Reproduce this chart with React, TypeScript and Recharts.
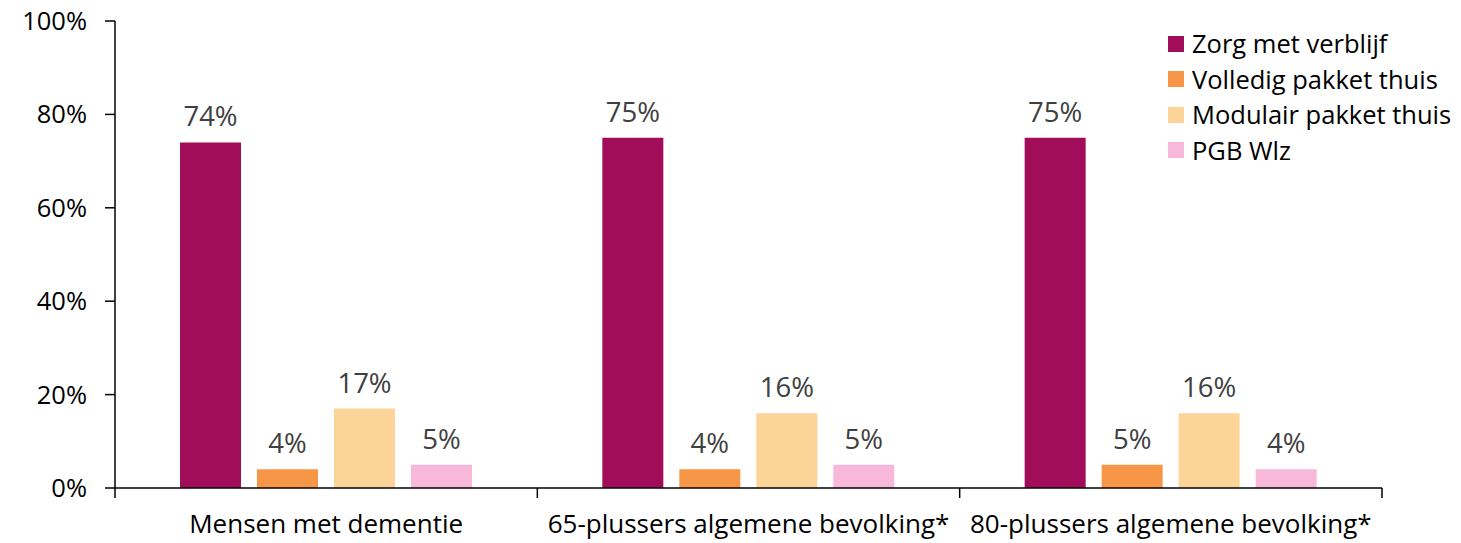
import { BarChart, Bar, XAxis, YAxis, LabelList } from "recharts";

const CATEGORIES = ["Mensen met dementie", "65-plussers algemene bevolking*", "80-plussers algemene bevolking*"];
const ZORG_MET_VERBLIJF = [74, 75, 75];
const VOLLEDIG_PAKKET = [4, 4, 5];
const MODULAIR_PAKKET = [17, 16, 16];
const PGB_WLZ = [5, 5, 4];
const Y_TICKS = [0, 20, 40, 60, 80, 100];

const SERIES = [
  { key: "zorg", name: "Zorg met verblijf", color: "#A10D59", values: ZORG_MET_VERBLIJF },
  { key: "volledig", name: "Volledig pakket thuis", color: "#F79646", values: VOLLEDIG_PAKKET },
  { key: "modulair", name: "Modulair pakket thuis", color: "#FDD497", values: MODULAIR_PAKKET },
  { key: "pgb", name: "PGB Wlz", color: "#F8B8DA", values: PGB_WLZ },
];

const data = CATEGORIES.map((c, i) => {
  const row: Record<string, string | number> = { cat: c };
  SERIES.forEach((s) => { row[s.key] = s.values[i]; });
  return row;
});

const W = 1461;
const H = 543;
const Y_AXIS_W = 60;
const X_AXIS_H = 30;
// plot area: x 115..1382, y 21..488
const MARGIN = { top: 21, right: 79, bottom: H - 488 - X_AXIS_H, left: 115 - Y_AXIS_W };
const BAND = (1382 - 115) / CATEGORIES.length;
const FONT = "'Open Sans', Lato, sans-serif";

function CatTick(props: any) {
  const { x, y, payload, index } = props;
  const half = payload && payload.offset ? payload.offset : BAND / 2;
  const axisY = y - 8;
  return (
    <g>
      <line x1={x - half} x2={x - half} y1={axisY} y2={axisY + 10} stroke="#000" strokeWidth={1.5} />
      {index === CATEGORIES.length - 1 && (
        <line x1={x + half} x2={x + half} y1={axisY} y2={axisY + 10} stroke="#000" strokeWidth={1.5} />
      )}
      <text x={x} y={axisY + 45} textAnchor="middle" fontSize={26} fill="#000" fontFamily={FONT}>
        {payload.value}
      </text>
    </g>
  );
}

function LegendBox() {
  return (
    <div style={{ position: "absolute", left: 1168, top: 26, fontFamily: FONT, fontSize: 25.5, color: "#000", lineHeight: 1 }}>
      {SERIES.map((s) => (
        <div key={s.key} style={{ display: "flex", alignItems: "center", height: 35.5, whiteSpace: "nowrap" }}>
          <span style={{ display: "inline-block", width: 16, height: 16, background: s.color, marginRight: 8 }} />
          <span>{s.name}</span>
        </div>
      ))}
    </div>
  );
}

export default function App() {
  return (
    <div style={{ position: "absolute", left: 0, top: 0, width: W, height: H, background: "#fff" }}>
      <BarChart width={W} height={H} data={data} margin={MARGIN} barCategoryGap={65} barGap={16}>
        <XAxis
          dataKey="cat"
          height={X_AXIS_H}
          axisLine={{ stroke: "#000", strokeWidth: 1.5 }}
          tickLine={false}
          tick={<CatTick />}
          interval={0}
        />
        <YAxis
          width={Y_AXIS_W}
          domain={[0, 100]}
          ticks={Y_TICKS}
          interval={0}
          tickFormatter={(v: number) => `${v}%`}
          axisLine={{ stroke: "#000", strokeWidth: 1.5 }}
          tickLine={{ stroke: "#000", strokeWidth: 1.5 }}
          tickSize={10}
          tickMargin={18}
          tick={{ fontSize: 25.5, fill: "#000", fontFamily: FONT }}
        />
        {SERIES.map((s) => (
          <Bar key={s.key} dataKey={s.key} name={s.name} fill={s.color} isAnimationActive={false}>
            <LabelList
              dataKey={s.key}
              position="top"
              offset={16}
              formatter={(v: any) => `${v}%`}
              style={{ fontSize: 27.5, fill: "#404040", fontFamily: FONT }}
            />
          </Bar>
        ))}
      </BarChart>
      <LegendBox />
    </div>
  );
}
